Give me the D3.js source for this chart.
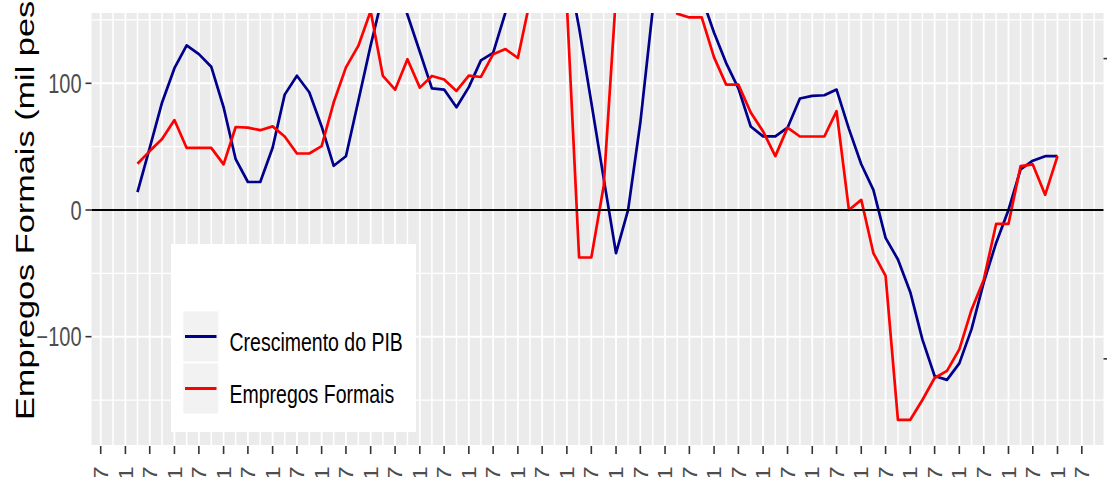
<!DOCTYPE html>
<html><head><meta charset="utf-8">
<script src="https://cdn.jsdelivr.net/npm/d3@7"></script>
<style>html,body{margin:0;padding:0;background:#fff;overflow:hidden}</style>
</head><body>
<svg id="chart" width="1107" height="477"></svg>
<script>
// ---------- DATA ----------
// quarterly observations, first and last quarter (categories)
const firstQuarter = "1999-04-01";
const lastQuarter = "2018-01-01";
// Crescimento do PIB (%), right axis
const pib = [0.55,2.03,3.54,4.68,5.44,5.15,4.73,3.38,1.65,0.89,0.89,2.03,3.80,4.43,3.88,2.74,1.43,1.75,3.59,5.44,
  7.13,7.76,6.46,5.23,4.01,3.97,3.38,4.05,4.94,5.19,6.54,7.47,8.06,8.40,8.61,8.19,6.03,3.54,1.01,-1.48,
  -0.04,2.87,6.62,8.40,8.82,8.40,7.05,5.86,4.85,4.01,2.74,2.41,2.41,2.70,3.67,3.76,3.78,3.97,2.66,1.48,
  0.63,-0.97,-1.69,-2.78,-4.35,-5.57,-5.70,-5.15,-4.01,-2.45,-1.14,-0.04,1.31,1.60,1.75,1.75];
// Empregos Formais (mil pessoas), left axis
const empregos = [36.5,46.5,56,71,49,49,49,36,65.5,65,63,66,58,44.6,44.6,50.4,85,112.6,129.5,157,
  105.8,95,119,96.6,105.8,103,94,106,105,123,127,120,165,195,205,162,-37.5,-37.5,19,170,
  195,205,200,185,155,152,152,120.5,99,99,77,62,42.5,65,58,58,58,78,0,8,
  -34,-52,-165.6,-165.6,-150,-132.6,-127,-110,-78.7,-55,-11,-11,34.6,36,12,42.5];
const seriesNames = ["Crescimento do PIB", "Empregos Formais"];
const seriesColors = ["#00008B", "#FF0000"];
const yTicks = [-100, 0, 100];
const yMinor = [-150, -50, 50, 150];
const yLimits = [-170, 140];
const rightTicks = [-5, 5];
const pibFactor = 23.7, pibOffset = 1;   // sec. axis: left = pib*factor + offset
const yTitle = "Empregos Formais (mil pessoas)";

// ---------- LAYOUT ----------
const W = 1107, H = 477;
const panel = {left: 91.5, right: 1103.5, top: 13, bottom: 445};
const SY = 1.34; // vertical stretch of the text
const svg = d3.select("#chart");
const parse = d3.timeParse("%Y-%m-%d");
const dates = d3.timeMonth.every(3).range(parse(firstQuarter), d3.timeDay.offset(parse(lastQuarter), 1));

const t0 = dates[0].getTime(), t1 = dates[dates.length - 1].getTime();
const xpad = (t1 - t0) * 0.05;
const x = d3.scaleTime().domain([new Date(t0 - xpad), new Date(t1 + xpad)]).range([panel.left, panel.right]);
const ypad = (yLimits[1] - yLimits[0]) * 0.05;
const y = d3.scaleLinear().domain([yLimits[0] - ypad, yLimits[1] + ypad]).range([panel.bottom, panel.top]);
const yR = d3.scaleLinear().domain(y.domain().map(v => (v - pibOffset) / pibFactor)).range(y.range());

// panel
svg.append("rect").attr("x", panel.left).attr("y", panel.top)
  .attr("width", panel.right - panel.left).attr("height", panel.bottom - panel.top).attr("fill", "#EBEBEB");

const majorX = d3.timeMonth.every(6).range(x.domain()[0], x.domain()[1]);
const minorX = d3.timeMonth.every(3).range(x.domain()[0], x.domain()[1]).filter(d => d.getMonth() % 6 !== 0);
const grid = svg.append("g");
grid.selectAll(".hmin").data(yMinor).join("line")
  .attr("x1", panel.left).attr("x2", panel.right).attr("y1", d => y(d)).attr("y2", d => y(d))
  .attr("stroke", "#fff").attr("stroke-width", 1.3);
grid.selectAll(".vmin").data(minorX).join("line")
  .attr("x1", d => x(d)).attr("x2", d => x(d)).attr("y1", panel.top).attr("y2", panel.bottom)
  .attr("stroke", "#fff").attr("stroke-width", 1.5);
grid.selectAll(".hmaj").data(yTicks).join("line")
  .attr("x1", panel.left).attr("x2", panel.right).attr("y1", d => y(d)).attr("y2", d => y(d))
  .attr("stroke", "#fff").attr("stroke-width", 2);
grid.selectAll(".vmaj").data(majorX).join("line")
  .attr("x1", d => x(d)).attr("x2", d => x(d)).attr("y1", panel.top).attr("y2", panel.bottom)
  .attr("stroke", "#fff").attr("stroke-width", 1.8);

// clip
svg.append("clipPath").attr("id", "clip").append("rect")
  .attr("x", panel.left).attr("y", panel.top)
  .attr("width", panel.right - panel.left).attr("height", panel.bottom - panel.top);

const lines = svg.append("g").attr("clip-path", "url(#clip)");
const pibData = dates.map((d, i) => ({d, v: pib[i]}));
const empData = dates.map((d, i) => ({d, v: empregos[i]}));
lines.append("path").datum(pibData)
  .attr("d", d3.line().x(p => x(p.d)).y(p => yR(p.v)))
  .attr("fill", "none").attr("stroke", seriesColors[0]).attr("stroke-width", 2.7).attr("stroke-linejoin", "round");
lines.append("path").datum(empData)
  .attr("d", d3.line().x(p => x(p.d)).y(p => y(p.v)))
  .attr("fill", "none").attr("stroke", seriesColors[1]).attr("stroke-width", 2.7).attr("stroke-linejoin", "round");

// zero line
svg.append("line").attr("x1", panel.left).attr("x2", panel.right)
  .attr("y1", y(0)).attr("y2", y(0)).attr("stroke", "#000").attr("stroke-width", 2);

// left axis
const la = svg.append("g");
la.selectAll("line").data(yTicks).join("line")
  .attr("x1", panel.left - 6).attr("x2", panel.left).attr("y1", d => y(d)).attr("y2", d => y(d))
  .attr("stroke", "#333").attr("stroke-width", 1.6);
la.selectAll("text").data(yTicks).join("text")
  .attr("transform", d => `translate(${panel.left - 10},${y(d)}) scale(1,${SY})`)
  .attr("text-anchor", "end").attr("dy", "0.358em")
  .attr("font-family", "Liberation Sans, Arial, sans-serif").attr("font-size", 20).attr("fill", "#4D4D4D")
  .text(d => d3.format("d")(d));

// right axis ticks (labels fall outside the picture)
svg.append("g").selectAll("line").data(rightTicks).join("line")
  .attr("x1", panel.right).attr("x2", panel.right + 5).attr("y1", d => yR(d)).attr("y2", d => yR(d))
  .attr("stroke", "#333").attr("stroke-width", 1.6);

// bottom axis
const ba = svg.append("g");
ba.selectAll("line").data(majorX).join("line")
  .attr("x1", d => x(d)).attr("x2", d => x(d)).attr("y1", panel.bottom + 1).attr("y2", panel.bottom + 9)
  .attr("stroke", "#333").attr("stroke-width", 1.6);
ba.selectAll("text").data(majorX).join("text")
  .attr("transform", d => `translate(${x(d)},${panel.bottom + 21}) scale(1,${SY}) rotate(-90)`)
  .attr("text-anchor", "end").attr("dy", "0.358em")
  .attr("font-family", "Liberation Sans, Arial, sans-serif").attr("font-size", 20).attr("fill", "#4D4D4D")
  .text(d => d3.timeFormat("%Y-%m")(d));

// y title
svg.append("text")
  .attr("transform", `translate(33.5,420) scale(1,${SY}) rotate(-90)`)
  .attr("font-family", "Liberation Sans, Arial, sans-serif").attr("font-size", 25.6).attr("fill", "#000")
  .text(yTitle);

// legend
const lg = svg.append("g");
lg.append("rect").attr("x", 171).attr("y", 244).attr("width", 245).attr("height", 188).attr("fill", "#fff");
seriesNames.forEach((name, i) => {
  const top = 311.5 + i * 52;
  lg.append("rect").attr("x", 183.3).attr("y", top).attr("width", 35).attr("height", 50).attr("fill", "#F2F2F2");
  lg.append("line").attr("x1", 185).attr("x2", 216.5).attr("y1", top + 25).attr("y2", top + 25)
    .attr("stroke", seriesColors[i]).attr("stroke-width", 3);
  lg.append("text").attr("transform", `translate(229.5,${top + 39}) scale(1,1.36)`)
    .attr("font-family", "Liberation Sans, Arial, sans-serif").attr("font-size", 19.5).attr("fill", "#000")
    .text(name);
});
</script>
</body></html>
